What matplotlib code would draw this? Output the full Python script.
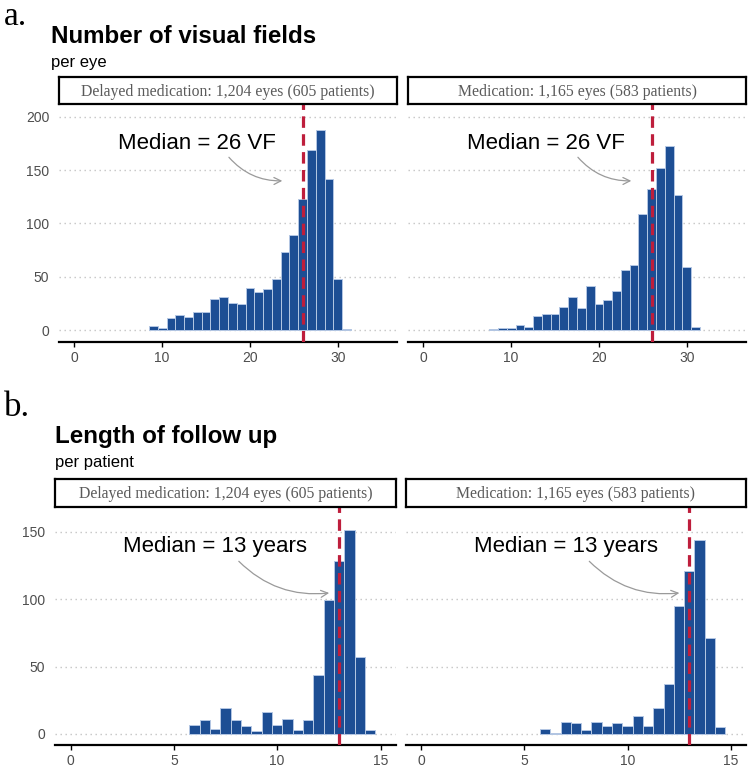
import matplotlib
matplotlib.use("Agg")
import matplotlib.pyplot as plt

W, H = 750, 768

# ---------------- data ----------------
# Panel a: number of visual fields per eye (bin centres, counts)
vf_delayed_x = [9, 10, 11, 12, 13, 14, 15, 16, 17, 18, 19, 20, 21, 22, 23, 24, 25, 26, 27, 28, 29, 30, 31]
vf_delayed_n = [4, 2, 11, 14, 12, 17, 17, 29, 31, 25, 24, 39, 36, 38, 48, 73, 89, 123, 169, 188, 142, 48, 1]
vf_med_x = [8, 9, 10, 11, 12, 13, 14, 15, 16, 17, 18, 19, 20, 21, 22, 23, 24, 25, 26, 27, 28, 29, 30, 31]
vf_med_n = [1, 2, 2, 5, 3, 13, 15, 15, 22, 31, 21, 41, 24, 28, 37, 56, 61, 109, 132, 152, 173, 127, 59, 3]

# Panel b: length of follow up (years) per patient
fu_x = [6.0, 6.5, 7.0, 7.5, 8.0, 8.5, 9.0, 9.5, 10.0, 10.5, 11.0, 11.5, 12.0, 12.5, 13.0, 13.5, 14.0, 14.5]
fu_delayed_n = [7, 10, 4, 19, 10, 6, 2, 16, 7, 11, 3, 10, 44, 99, 128, 151, 57, 3]
fu_med_n = [4, 1, 9, 8, 3, 9, 6, 8, 6, 13, 6, 19, 37, 95, 121, 144, 71, 5]

strip_labels = ["Delayed medication: 1,204 eyes (605 patients)",
                "Medication: 1,165 eyes (583 patients)"]
median_vf = 26
median_fu = 13
vf_xticks = [0, 10, 20, 30]
vf_yticks = [0, 50, 100, 150, 200]
fu_xticks = [0, 5, 10, 15]
fu_yticks = [0, 50, 100, 150]

BAR = "#1d4e94"
BAR_EDGE = "#b4c7e3"
RED = "#be1e3c"
GRID = "#c4c4c4"
TICKC = "#4d4d4d"
SANS = ["Liberation Sans", "DejaVu Sans"]
SERIF = ["Liberation Serif", "DejaVu Serif"]

fig = plt.figure(figsize=(W / 100, H / 100), dpi=100)


def box(l, t, r, b):
    return [l / W, 1 - b / H, (r - l) / W, (b - t) / H]


def ftext(x, y, s, **kw):
    fig.text(x / W, 1 - y / H, s, va="baseline", ha="left", **kw)


def panel(rect, xs, ns, width, xlim, ylim, xticks, yticks, show_y, median,
          label, txt_xy, arr_from, arr_to, strip_rect, strip_text):
    ax = fig.add_axes(box(*rect))
    ax.set_xlim(*xlim)
    ax.set_ylim(*ylim)
    for yt in yticks:
        ax.axhline(yt, color=GRID, lw=1.0, ls=(0, (1, 2.6)), zorder=0)
    ax.bar(xs, ns, width=width, color=BAR, edgecolor=BAR_EDGE, linewidth=0.7, zorder=2)
    ax.axvline(median, color=RED, lw=2.3, ls=(0, (3.6, 2.0)), zorder=3)
    ax.text(txt_xy[0], txt_xy[1], label, ha="center", va="center",
            fontsize=16, family=SANS, color="black", zorder=4)
    ax.annotate("", xy=arr_to, xytext=arr_from,
                arrowprops=dict(arrowstyle="->,head_length=0.5,head_width=0.25",
                                color="#9a9a9a", lw=0.9,
                                connectionstyle="arc3,rad=0.25"), zorder=4)
    for s in ["top", "right", "left"]:
        ax.spines[s].set_visible(False)
    ax.spines["bottom"].set_linewidth(1.6)
    ax.spines["bottom"].set_color("black")
    ax.set_xticks(xticks)
    ax.set_yticks(yticks)
    ax.tick_params(axis="x", length=3.5, width=1, color="black", pad=3,
                   labelsize=10, labelcolor=TICKC)
    ax.tick_params(axis="y", length=0, pad=7, labelsize=10, labelcolor=TICKC)
    for lab in ax.get_xticklabels() + ax.get_yticklabels():
        lab.set_family(SANS)
    if not show_y:
        ax.set_yticklabels([])
    sax = fig.add_axes(box(*strip_rect))
    sax.set_xticks([])
    sax.set_yticks([])
    for s in sax.spines.values():
        s.set_linewidth(1.6)
        s.set_color("black")
    sax.text(0.5, 0.45, strip_text, ha="center", va="center", fontsize=11.3,
             family=SERIF, color="#5a5a5a", transform=sax.transAxes)
    return ax


# ---------------- panel a ----------------
ftext(4, 25, "a.", fontsize=24, family=SERIF)
ftext(51, 43, "Number of visual fields", fontsize=17.4, family=SANS, weight="bold")
ftext(51, 67, "per eye", fontsize=12, family=SANS)

vf_xlim = (-1.75, 36.75)
vf_ylim = (-11.25, 212)
panel((59, 104, 397, 342), vf_delayed_x, vf_delayed_n, 1.0, vf_xlim, vf_ylim,
      vf_xticks, vf_yticks, True, median_vf, "Median = 26 VF", (14, 175),
      (17.4, 164), (24.0, 140), (59, 77, 397, 104), strip_labels[0])
panel((408, 104, 746, 342), vf_med_x, vf_med_n, 1.0, vf_xlim, vf_ylim,
      vf_xticks, vf_yticks, False, median_vf, "Median = 26 VF", (14, 175),
      (17.4, 164), (24.0, 140), (408, 77, 746, 104), strip_labels[1])

# ---------------- panel b ----------------
ftext(4, 416, "b.", fontsize=25, family=SERIF)
ftext(55, 443, "Length of follow up", fontsize=17.4, family=SANS, weight="bold")
ftext(55, 467, "per patient", fontsize=12, family=SANS)

fu_xlim = (-0.75, 15.75)
fu_ylim = (-8.2, 168.3)
panel((55, 507, 396, 745), fu_x, fu_delayed_n, 0.5, fu_xlim, fu_ylim,
      fu_xticks, fu_yticks, True, median_fu, "Median = 13 years", (7, 139),
      (8.05, 129.5), (12.65, 104.8), (55, 479, 396, 507), strip_labels[0])
panel((406, 507, 746, 745), fu_x, fu_med_n, 0.5, fu_xlim, fu_ylim,
      fu_xticks, fu_yticks, False, median_fu, "Median = 13 years", (7, 139),
      (8.05, 129.5), (12.65, 104.8), (406, 479, 746, 507), strip_labels[1])

fig.savefig("out.png", dpi=100, facecolor="white")
